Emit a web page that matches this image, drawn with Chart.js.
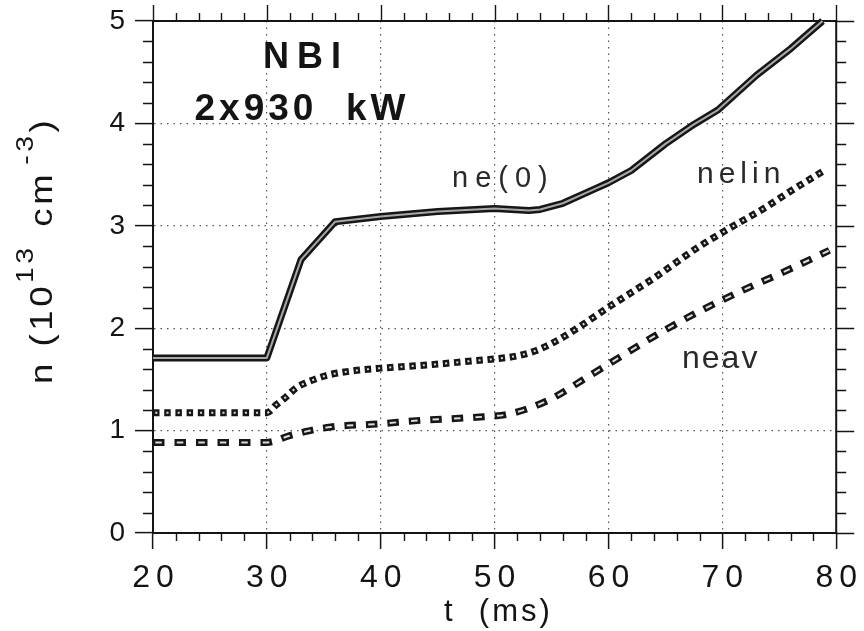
<!DOCTYPE html>
<html>
<head>
<meta charset="utf-8">
<title>NBI 2x930 kW density</title>
<script src="https://cdn.jsdelivr.net/npm/chart.js@4.4.1/dist/chart.umd.min.js"></script>
<style>
    html, body { margin: 0; padding: 0; background: #fff; }
    #wrap { width: 864px; height: 631px; }
</style>
</head>
<body>
<div id="wrap"><canvas id="chart" width="864" height="631"></canvas></div>
<script>
// central density ne(0)
var tNe0 = [20, 30, 33, 36, 40, 45, 50, 53, 54, 56, 59, 60, 62, 65, 67.5, 69.6, 73, 76, 78.8];
var ne0 = [1.71, 1.71, 2.67, 3.04, 3.09, 3.14, 3.17, 3.15, 3.16, 3.22, 3.37, 3.42, 3.54, 3.8, 3.99, 4.13, 4.47, 4.73, 5.0];
// line integrated density
var tNelin = [20, 30, 30.8, 31.7, 32.6, 33.5, 35.3, 37.3, 40, 44, 48, 50, 52, 53.6, 55.5, 57.4, 60.2, 64, 68, 71, 73.5, 76.3, 79.1];
var nelin = [1.175, 1.175, 1.25, 1.33, 1.42, 1.47, 1.54, 1.58, 1.61, 1.64, 1.68, 1.70, 1.73, 1.78, 1.88, 2.01, 2.22, 2.49, 2.80, 3.0, 3.16, 3.36, 3.55];
// volume averaged density
var tNeav = [20, 30, 32, 33.8, 35.6, 39.7, 43.5, 49, 51.2, 54.6, 58.4, 60.3, 64, 67.9, 71.6, 75.4, 79.4];
var neav = [0.885, 0.885, 0.95, 1.0, 1.035, 1.065, 1.10, 1.135, 1.16, 1.29, 1.54, 1.67, 1.92, 2.16, 2.36, 2.55, 2.76];

// axes
var xTicks = [20, 30, 40, 50, 60, 70, 80];
var yTicks = [0, 1, 2, 3, 4, 5];
var xMinor = 2;
var yMinor = 0.2;

var FONT = '"Liberation Sans", Arial, Helvetica, sans-serif';
var INK = '#141414';

function points(ts, vs) {
    var ret = [];
    for (var i = 0; i < ts.length; i++) {
        ret.push({ x: ts[i], y: vs[i] });
    }
    return ret;
}

// every curve is drawn twice: a wide dark stroke and a thin light core on top
function outlined(data, outerDash, innerDash, core, smooth) {
    var base = {
        data: data,
        pointRadius: 0,
        fill: false,
        tension: 0,
        cubicInterpolationMode: smooth ? 'monotone' : 'default',
        borderCapStyle: 'butt',
        borderJoinStyle: 'round',
        clip: 8
    };
    var outer = Object.assign({}, base, {
        borderColor: '#161616',
        borderWidth: 7,
        borderDash: outerDash,
        order: 2
    });
    var inner = Object.assign({}, base, {
        borderColor: core,
        borderWidth: 2,
        borderDash: innerDash,
        borderDashOffset: -2.3,
        order: 1
    });
    return [outer, inner];
}

function text(ctx, str, x, y, o) {
    ctx.save();
    ctx.font = o.font;
    ctx.fillStyle = o.color || INK;
    ctx.letterSpacing = (o.ls || 0) + 'px';
    ctx.textAlign = o.align || 'left';
    ctx.textBaseline = 'alphabetic';
    ctx.translate(x, y);
    if (o.sx) ctx.scale(o.sx, 1);
    ctx.fillText(str, 0, 0);
    var w = ctx.measureText(str).width * (o.sx || 1);
    ctx.restore();
    return w;
}

// y title, rotated, with raised exponents
function yTitle(ctx) {
    var parts = [
        { s: 'n (10', size: 31, dy: 0 },
        { s: '13', size: 24, dy: -19 },
        { s: ' cm', size: 31, dy: 0, gap: 4 },
        { s: '-3', size: 24, dy: -19, gap: 6 },
        { s: ')', size: 31, dy: 0 }
    ];
    ctx.save();
    ctx.translate(52, 384);
    ctx.rotate(-Math.PI / 2);
    var pos = 0;
    for (var i = 0; i < parts.length; i++) {
        var p = parts[i];
        pos += p.gap || 0;
        pos += text(ctx, p.s, pos, p.dy, { font: p.size + 'px ' + FONT, ls: 3, sx: 1.18 });
    }
    ctx.restore();
}

var decor = {
    id: 'decor',
    beforeDraw: function(chart) {
        // wide spacing for the tick numbers
        chart.ctx.letterSpacing = '6px';
    },
    beforeDatasetsDraw: function(chart) {
        var ctx = chart.ctx, a = chart.chartArea;
        var sx = chart.scales.x, sy = chart.scales.y;
        var i, n, v, p, major;
        ctx.letterSpacing = '0px';
        ctx.save();
        ctx.strokeStyle = INK;
        ctx.lineWidth = 2;
        ctx.beginPath();
        ctx.moveTo(a.left, a.top);
        ctx.lineTo(a.right, a.top);
        ctx.lineTo(a.right, a.bottom);
        ctx.stroke();

        ctx.lineWidth = 1.4;
        ctx.beginPath();
        n = Math.round((xTicks[xTicks.length - 1] - xTicks[0]) / xMinor);
        for (i = 0; i <= n; i++) {
            v = xTicks[0] + i * xMinor;
            p = Math.round(sx.getPixelForValue(v)) + 0.5;
            major = xTicks.indexOf(v) >= 0;
            if (!major) {
                ctx.moveTo(p, a.bottom);
                ctx.lineTo(p, a.bottom + 8);
            }
            ctx.moveTo(p, a.top);
            ctx.lineTo(p, a.top - (major ? 16 : 8));
        }
        n = Math.round((yTicks[yTicks.length - 1] - yTicks[0]) / yMinor);
        for (i = 0; i <= n; i++) {
            v = Math.round((yTicks[0] + i * yMinor) * 10) / 10;
            p = Math.round(sy.getPixelForValue(v)) + 0.5;
            major = yTicks.indexOf(v) >= 0;
            if (!major) {
                ctx.moveTo(a.left, p);
                ctx.lineTo(a.left - 10, p);
            }
            ctx.moveTo(a.right, p);
            ctx.lineTo(a.right + (major ? 18 : 10), p);
        }
        ctx.stroke();
        ctx.restore();
    },
    afterDraw: function(chart) {
        var ctx = chart.ctx;
        ctx.letterSpacing = '0px';
        text(ctx, 'NBI', 306, 68, { font: 'bold 36px ' + FONT, ls: 8, align: 'center' });
        text(ctx, '2x930  kW', 302, 120, { font: 'bold 37px ' + FONT, ls: 4, align: 'center' });
        text(ctx, 'ne(0)', 452, 187, { font: '29px ' + FONT, ls: 7, color: '#2a2a2a' });
        text(ctx, 'nelin', 697, 183, { font: '30px ' + FONT, ls: 5, color: '#2a2a2a' });
        text(ctx, 'neav', 682, 368, { font: '32px ' + FONT, ls: 2, color: '#2a2a2a' });
        text(ctx, 't  (ms)', 444, 621, { font: '31px ' + FONT, ls: 3 });
        yTitle(ctx);
    }
};

function gridColor(c) {
    var s = c.scale;
    if (c.tick && (c.tick.value === s.min || c.tick.value === s.max)) return 'rgba(0,0,0,0)';
    return '#555555';
}

var datasets = []
    .concat(outlined(points(tNe0, ne0), [], [], '#a8a8a8', false))
    .concat(outlined(points(tNelin, nelin), [6.5, 4.7], [2, 9.2], '#dddddd', true))
    .concat(outlined(points(tNeav, neav), [11.5, 10], [6.5, 15], '#dddddd', true));

var chart = new Chart(document.getElementById('chart'), {
    type: 'line',
    data: { datasets: datasets },
    options: {
        responsive: false,
        devicePixelRatio: 1,
        animation: false,
        events: [],
        layout: { padding: { top: 21, right: 27, bottom: 0, left: 0 } },
        plugins: { legend: { display: false }, tooltip: { enabled: false } },
        scales: {
            x: {
                type: 'linear',
                min: 20,
                max: 80,
                afterBuildTicks: function(s) {
                    s.ticks = xTicks.map(function(v) { return { value: v }; });
                },
                afterFit: function(s) { s.height = 98; },
                ticks: {
                    font: { family: FONT, size: 32 },
                    color: INK,
                    padding: 10,
                    labelOffset: 3,
                    maxRotation: 0,
                    autoSkip: false,
                    callback: function(v) { return String(v); }
                },
                grid: {
                    color: gridColor,
                    lineWidth: 1.2,
                    tickColor: INK,
                    tickWidth: 1.5,
                    tickLength: 16,
                    tickBorderDash: []
                },
                border: { display: true, color: INK, width: 2, dash: [1.5, 5] }
            },
            y: {
                type: 'linear',
                min: 0,
                max: 5,
                afterBuildTicks: function(s) {
                    s.ticks = yTicks.map(function(v) { return { value: v }; });
                },
                afterFit: function(s) { s.width = 153; },
                ticks: {
                    font: { family: FONT, size: 28 },
                    color: INK,
                    padding: 4,
                    callback: function(v) { return String(v); }
                },
                grid: {
                    color: gridColor,
                    lineWidth: 1.2,
                    tickColor: INK,
                    tickWidth: 1.5,
                    tickLength: 18,
                    tickBorderDash: []
                },
                border: { display: true, color: INK, width: 2, dash: [1.5, 5] }
            }
        }
    },
    plugins: [decor]
});
</script>
</body>
</html>
